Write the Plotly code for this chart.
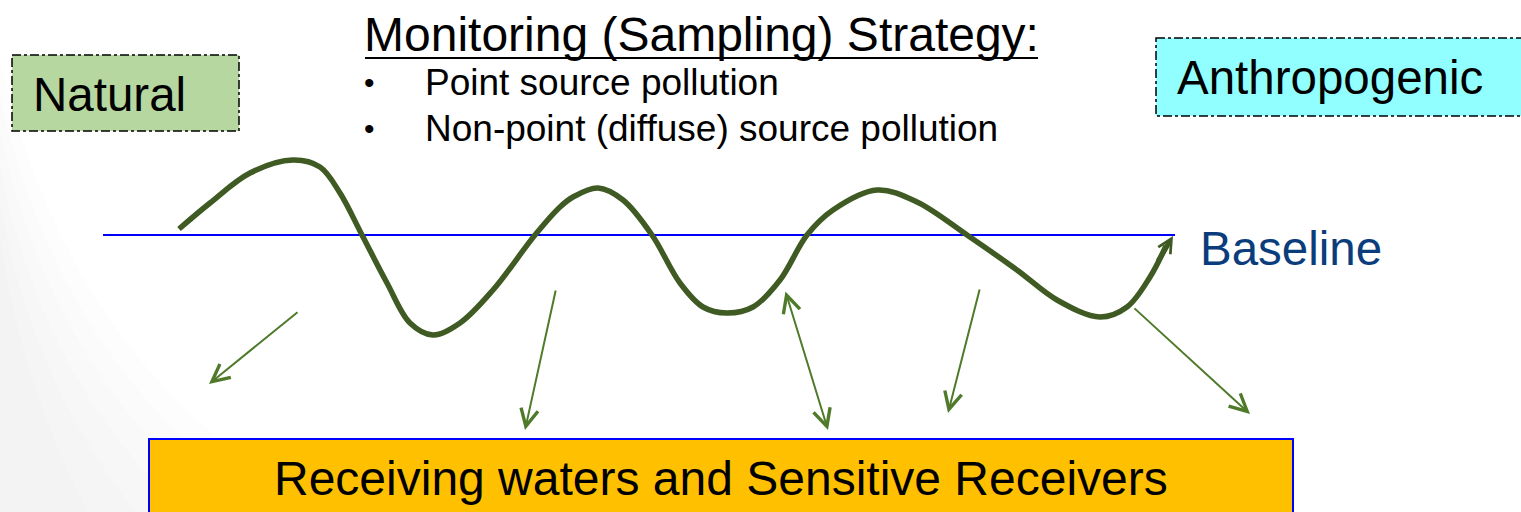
import plotly.graph_objects as go

# ---- data (pixel-space diagram coordinates) ----
wave_x = [179, 210, 250, 293, 320, 340, 362, 387, 410, 433, 460, 493, 535, 560,
          573, 598, 623, 652, 680, 703, 727, 753, 780, 807, 833, 877,
          917, 967, 1017, 1057, 1100, 1127, 1150, 1166]
wave_y = [229, 203, 173, 160, 167, 193, 235, 283, 323, 335, 323, 290, 235, 207,
          197, 188, 200, 235, 283, 307, 313, 307, 280, 235, 210, 190,
          202, 235, 270, 300, 317, 307, 277, 246]

baseline_x = [103, 1175]
baseline_y = [235, 235]

# thin arrows: (tail x, tail y, head x, head y, double)
arrow_tail_x = [299, 556, 785, 980, 1133]
arrow_tail_y = [311, 289, 290, 288, 307]
arrow_head_x = [209, 525, 828, 948, 1250]
arrow_head_y = [384, 430, 430, 413, 414]
arrow_double = [False, False, True, False, False]

title_text = "Monitoring (Sampling) Strategy:"
bullets = ["Point source pollution", "Non-point (diffuse) source pollution"]
label_natural = "Natural"
label_anthro = "Anthropogenic"
label_baseline = "Baseline"
label_receivers = "Receiving waters and Sensitive Receivers"

FONT = "Liberation Sans, Arial, sans-serif"
WAVE_C = "#3F5A22"
ARROW_C = "#4E7A2A"

fig = go.Figure()

# baseline
fig.add_trace(go.Scatter(x=baseline_x, y=baseline_y, mode="lines",
                         line=dict(color="#0000FF", width=2), hoverinfo="skip"))
# wave
fig.add_trace(go.Scatter(x=wave_x, y=wave_y, mode="lines",
                         line=dict(color=WAVE_C, width=5.5, shape="spline", smoothing=1.0),
                         hoverinfo="skip"))

shapes = []
# subtle grey shading at the left edge of the slide background
for i in range(6):
    w = 150 - i * 22
    shapes.append(dict(type="path", xref="x", yref="y", layer="below",
                       path=f"M 0 {60 + i * 35} Q {w * 0.5} 380 {w * 2.2} 512 L 0 512 Z",
                       fillcolor="rgba(0,0,0,0.006)", line=dict(width=0)))
shapes += [
    # Natural box
    dict(type="rect", x0=12, x1=239, y0=55, y1=131, xref="x", yref="y",
         fillcolor="#B7D7A0", line=dict(color="black", width=1.5, dash="dashdot"), layer="below"),
    # Anthropogenic box
    dict(type="rect", x0=1156, x1=1530, y0=38, y1=116, xref="x", yref="y",
         fillcolor="#91FFFF", line=dict(color="black", width=1.5, dash="dashdot"), layer="below"),
    # Receivers box
    dict(type="rect", x0=149, x1=1293, y0=439, y1=520, xref="x", yref="y",
         fillcolor="#FFC000", line=dict(color="#0000FF", width=2), layer="below"),
    # title underline
    dict(type="line", x0=365, x1=1038, y0=58, y1=58, xref="x", yref="y",
         line=dict(color="black", width=2)),
]

annotations = []
# thin arrows
for tx, ty, hx, hy, dbl in zip(arrow_tail_x, arrow_tail_y, arrow_head_x, arrow_head_y, arrow_double):
    annotations.append(dict(x=hx, y=hy, ax=tx, ay=ty, xref="x", yref="y", axref="x", ayref="y",
                            showarrow=True, arrowhead=5, startarrowhead=5, arrowsize=1.7,
                            startarrowsize=1.7,
                            arrowwidth=2, arrowcolor=ARROW_C,
                            arrowside="end+start" if dbl else "end", text=""))
# wave end arrowhead
annotations.append(dict(x=1173, y=236, ax=1157, ay=263, xref="x", yref="y",
                        axref="x", ayref="y", showarrow=True, arrowhead=5, arrowsize=0.55,
                        arrowwidth=5, arrowcolor=WAVE_C, text=""))

def label(x, y, text, size, color="black", anchor="left"):
    annotations.append(dict(x=x, y=y, xref="x", yref="y", text=text, showarrow=False,
                            xanchor=anchor, yanchor="middle",
                            font=dict(family=FONT, size=size, color=color)))

label(31, 94, label_natural, 47.5)
label(1175, 77, label_anthro, 47.5)
label(1198, 248, label_baseline, 47.5, color="#0B3D7D")
label(721, 478, label_receivers, 48, anchor="center")
label(362, 34, title_text, 48)
label(362, 82, "•", 30)
label(362, 128, "•", 30)
label(423, 82, bullets[0], 37)
label(423, 128, bullets[1], 37)

fig.update_layout(
    width=1521, height=512,
    margin=dict(l=0, r=0, t=0, b=0),
    paper_bgcolor="white", plot_bgcolor="rgba(0,0,0,0)",
    showlegend=False,
    shapes=shapes, annotations=annotations,
    xaxis=dict(range=[0, 1521], visible=False, fixedrange=True),
    yaxis=dict(range=[512, 0], visible=False, fixedrange=True),
)

fig.write_html("out.html", config={"displayModeBar": False},
               post_script="document.body.style.margin='0';document.body.style.overflow='hidden';")
